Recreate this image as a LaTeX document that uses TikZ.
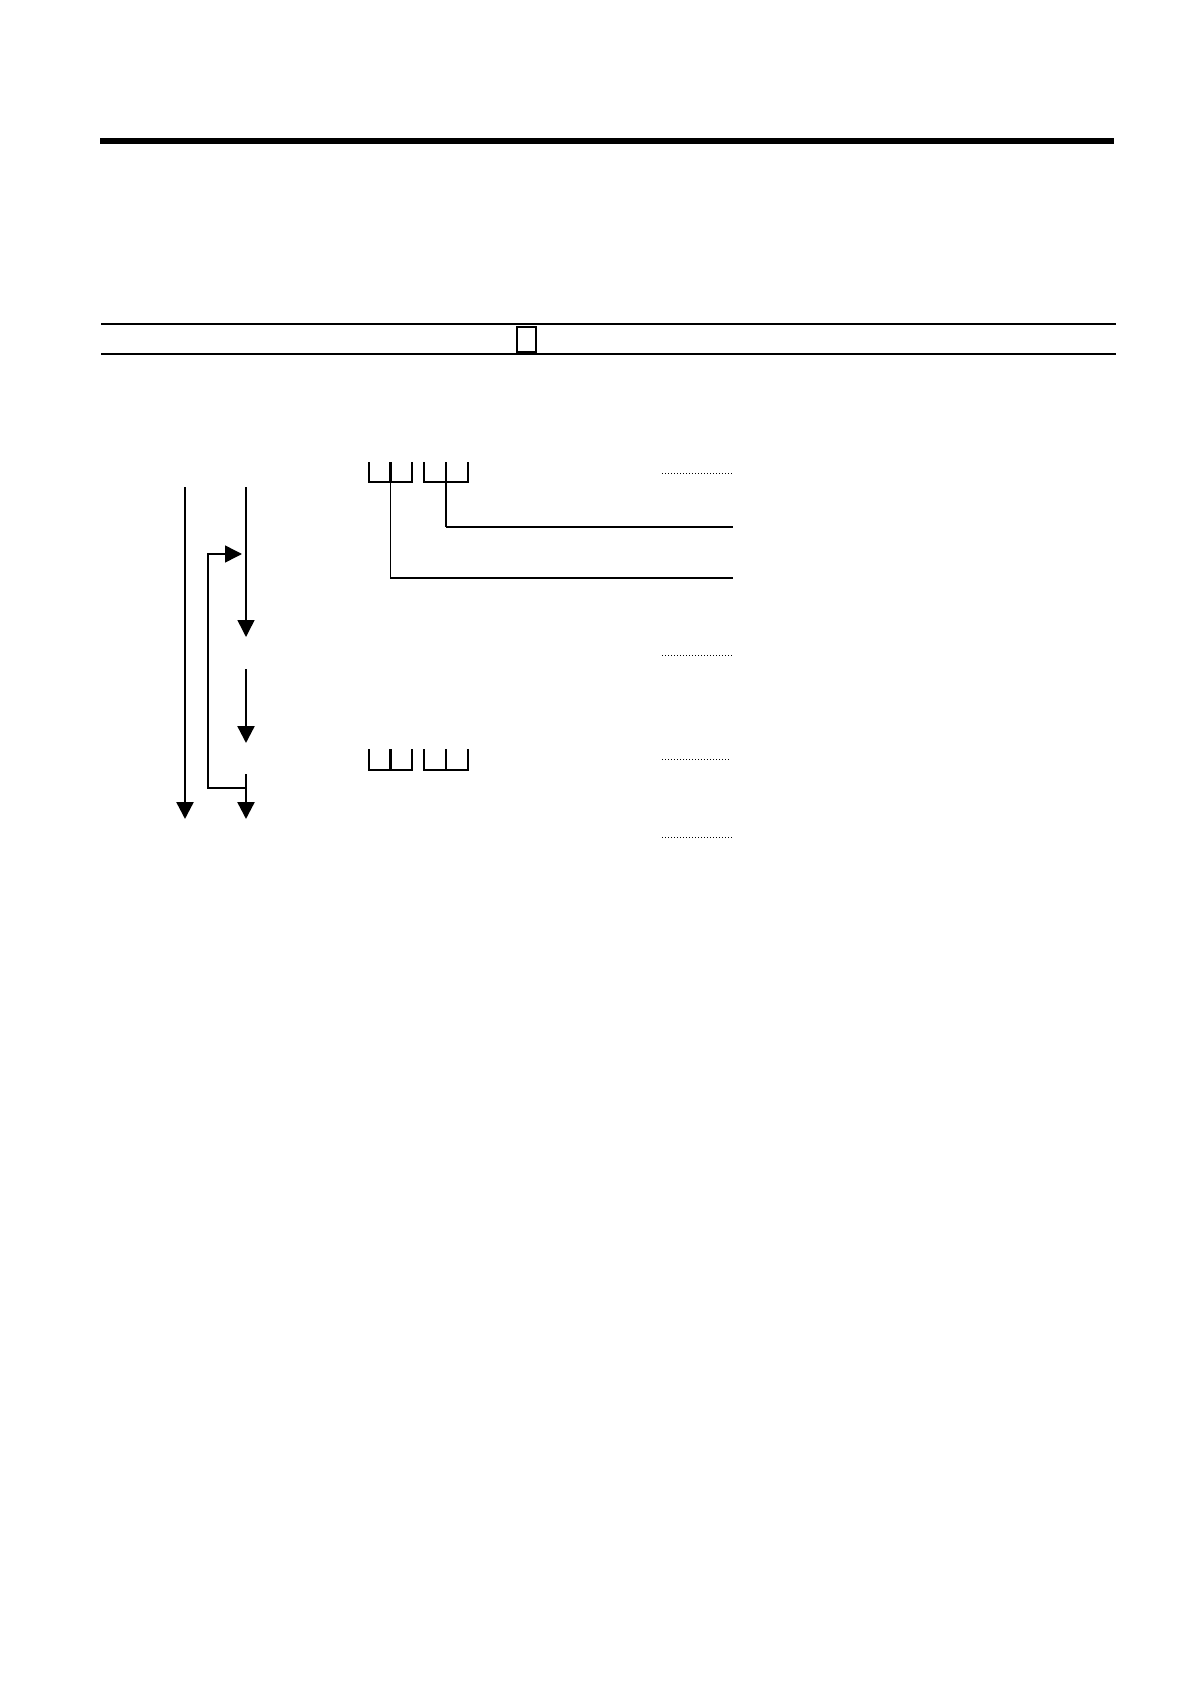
\documentclass[tikz,border=0pt]{standalone}
\usetikzlibrary{arrows.meta}
\begin{document}
\begin{tikzpicture}[x=0.5pt,y=-0.5pt,
  rule/.style={line width=0.8pt},
  heavyrule/.style={line width=2.6pt},
  flow/.style={line width=1.2pt,-{Triangle[width=8.5pt,length=8.5pt]}},
  thinflow/.style={line width=0.75pt,-{Triangle[width=8.5pt,length=8.5pt]}},
  bracket/.style={line width=1.2pt},
  leader/.style={line width=0.75pt},
  dots/.style={line width=0.5pt,dash pattern=on 0.5pt off 1pt}]
\useasboundingbox (0,0) rectangle (1190,1684);
% header rules
\coordinate (h1) at (100,141); \coordinate (h2) at (1114,141);
\draw[heavyrule] (h1) -- (h2);
\coordinate (r1a) at (101,324); \coordinate (r1b) at (1116,324);
\coordinate (r2a) at (101,354); \coordinate (r2b) at (1116,354);
\draw[rule] (r1a) -- (r1b);
\draw[rule] (r2a) -- (r2b);
\node[draw,line width=0.8pt,minimum width=9.5pt,minimum height=12.5pt,inner sep=0pt] (box) at (526.5,339.5) {};
% left arrows
\coordinate (a1) at (185,487); \coordinate (a2) at (185,819);
\draw[flow] (a1) -- (a2);
\coordinate (b1) at (246,487); \coordinate (b2) at (246,637);
\draw[thinflow] (b1) -- (b2);
\coordinate (c1) at (246,669); \coordinate (c2) at (246,743);
\draw[flow] (c1) -- (c2);
\coordinate (d1) at (246,774); \coordinate (d2) at (246,819);
\draw[flow] (d1) -- (d2);
\coordinate (lp0) at (246,788); \coordinate (lp1) at (208,788);
\coordinate (lp2) at (208,554); \coordinate (lp3) at (242,554);
\draw[thinflow] (lp0) -- (lp1) -- (lp2) -- (lp3);
% top brackets
\coordinate (t1a) at (369,462); \coordinate (t1b) at (412,462);
\coordinate (t2a) at (424,462); \coordinate (t2b) at (468,462);
\draw[bracket] (t1a) |- (412,482) -- (t1b);
\draw[bracket] (390.5,462) -- (390.5,482);
\draw[bracket] (t2a) |- (468,482) -- (t2b);
\draw[bracket] (446,462) -- (446,482);
\coordinate (s1e) at (733,578); \coordinate (s2e) at (733,527);
\draw[leader] (390.5,482) |- (s1e);
\draw[bracket] (446,482) -- (446,527);
\draw[leader] (446,527) -- (s2e);
% bottom brackets
\draw[bracket] (369,749) |- (412,770) -- (412,749);
\draw[bracket] (390.5,749) -- (390.5,770);
\draw[bracket] (424,749) |- (468,770) -- (468,749);
\draw[bracket] (446,749) -- (446,770);
% dotted leaders
\coordinate (p1a) at (662,473); \coordinate (p1b) at (733,473);
\coordinate (p2a) at (662,655); \coordinate (p2b) at (733,655);
\coordinate (p3a) at (662,759); \coordinate (p3b) at (731,759);
\coordinate (p4a) at (662,837); \coordinate (p4b) at (733,837);
\draw[dots] (p1a) -- (p1b);
\draw[dots] (p2a) -- (p2b);
\draw[dots] (p3a) -- (p3b);
\draw[dots] (p4a) -- (p4b);
\end{tikzpicture}
\end{document}
